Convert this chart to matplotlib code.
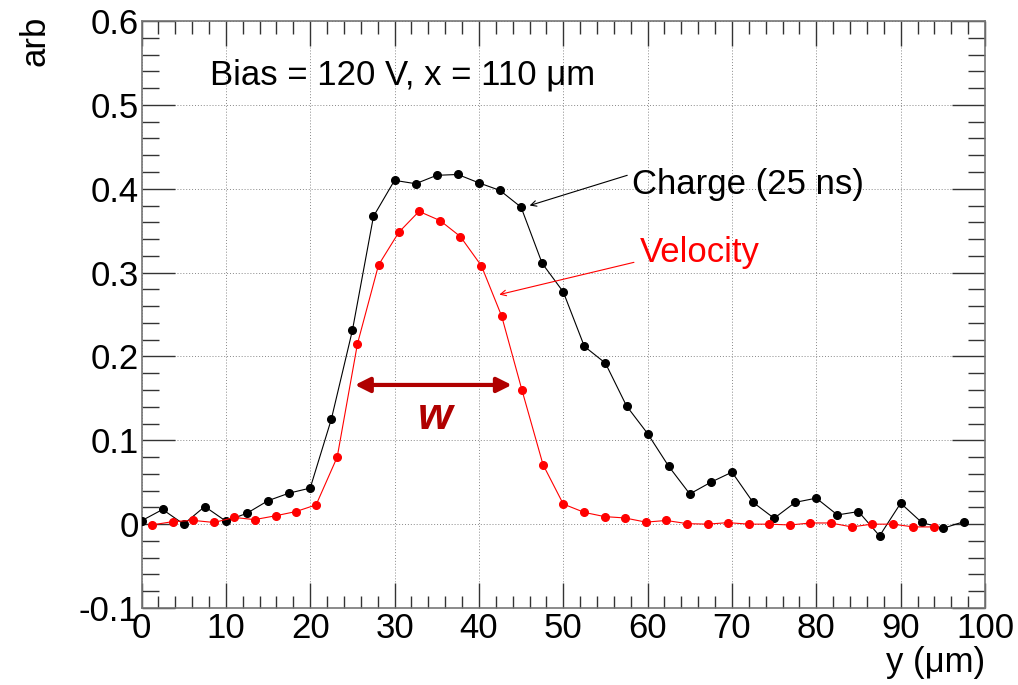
import matplotlib
matplotlib.use("Agg")
import matplotlib.pyplot as plt
from matplotlib.ticker import MultipleLocator

plt.rcParams['font.family'] = ['Liberation Sans', 'DejaVu Sans']

# charge collected in 25 ns, black points
charge_y_pos = [0, 2.5, 5, 7.5, 10, 12.5, 15, 17.5, 20, 22.5, 25, 27.5, 30, 32.5,
                35, 37.5, 40, 42.5, 45, 47.5, 50, 52.5, 55, 57.5, 60, 62.5, 65,
                67.5, 70, 72.5, 75, 77.5, 80, 82.5, 85, 87.5, 90, 92.5, 95, 97.5]
charge = [0.004, 0.0175, 0.0, 0.021, 0.0036, 0.013, 0.028, 0.037, 0.043, 0.125,
          0.231, 0.367, 0.410, 0.406, 0.416, 0.417, 0.407, 0.398, 0.378, 0.311,
          0.277, 0.212, 0.192, 0.141, 0.108, 0.069, 0.036, 0.050, 0.062, 0.026,
          0.007, 0.026, 0.031, 0.011, 0.015, -0.014, 0.025, 0.002, -0.005, 0.003]

# velocity, red points
vel_y_pos = [1.2, 3.7, 6.1, 8.6, 11.0, 13.4, 15.9, 18.3, 20.7, 23.2, 25.6, 28.1,
             30.5, 32.9, 35.4, 37.8, 40.3, 42.7, 45.1, 47.6, 50.0, 52.5, 54.9,
             57.3, 59.8, 62.2, 64.7, 67.1, 69.5, 72.0, 74.4, 76.9, 79.3, 81.7,
             84.2, 86.6, 89.1, 91.5, 93.9]
velocity = [-0.001, 0.003, 0.0045, 0.002, 0.008, 0.0054, 0.010, 0.015, 0.023,
            0.080, 0.215, 0.309, 0.348, 0.373, 0.362, 0.343, 0.308, 0.248, 0.160,
            0.071, 0.024, 0.014, 0.009, 0.0074, 0.0024, 0.0044, 0.0006, 0.0,
            0.0018, 0.0, 0.0, -0.001, 0.0014, 0.0014, -0.0033, 0.0, 0.0, -0.0033,
            -0.0033]

fig = plt.figure(figsize=(10.18, 6.85), dpi=100)
ax = fig.add_axes([0.139, 0.1124, 0.8286, 0.8569])

ax.plot(charge_y_pos, charge, color='black', lw=0.8, marker='o', ms=5.5, zorder=3)
ax.plot(vel_y_pos, velocity, color='red', lw=0.8, marker='o', ms=5.5, zorder=3)

ax.set_xlim(0, 100)
ax.set_ylim(-0.1, 0.6)
ax.xaxis.set_major_locator(MultipleLocator(10))
ax.xaxis.set_minor_locator(MultipleLocator(2))
ax.yaxis.set_major_locator(MultipleLocator(0.1))
ax.yaxis.set_minor_locator(MultipleLocator(0.02))
ax.set_yticks([-0.1, 0, 0.1, 0.2, 0.3, 0.4, 0.5, 0.6])
ax.set_yticklabels(['-0.1', '0', '0.1', '0.2', '0.3', '0.4', '0.5', '0.6'])

ax.grid(True, which='major', color='#888888', ls=(0, (1, 2)), lw=0.7)
ax.tick_params(which='both', direction='in', top=True, right=True,
               labelsize=25, color='#333333', width=1)
ax.tick_params(axis='x', which='major', length=18, pad=3)
ax.tick_params(axis='x', which='minor', length=9)
ax.tick_params(axis='y', which='major', length=24, pad=2)
ax.tick_params(axis='y', which='minor', length=12)
for s in ax.spines.values():
    s.set_color('#777777')
    s.set_linewidth(1.2)

fig.text(0.034, 0.94, 'arb', rotation=90, fontsize=25, ha='center', va='center')
fig.text(0.9676, 0.033, 'y (\u03bcm)', fontsize=25, ha='right', va='center')

ax.text(8.1, 0.536, 'Bias = 120 V, x = 110 \u03bcm', fontsize=25, va='center')
ax.text(58.1, 0.405, 'Charge (25 ns)', fontsize=25, va='center')
ax.text(59.1, 0.324, 'Velocity', fontsize=25, va='center', color='red')

ax.annotate('', xy=(45.7, 0.379), xytext=(57.9, 0.417),
            arrowprops=dict(arrowstyle='->', color='black', lw=0.8))
ax.annotate('', xy=(42.1, 0.273), xytext=(58.7, 0.313),
            arrowprops=dict(arrowstyle='->', color='red', lw=0.8))
ax.annotate('', xy=(43.9, 0.166), xytext=(25.3, 0.166),
            arrowprops=dict(arrowstyle='<|-|>', color='#b00000', lw=3,
                            mutation_scale=22, shrinkA=0, shrinkB=0))
ax.text(34.8, 0.127, 'w', fontsize=32, color='#b00000', fontweight='bold',
        fontstyle='italic', ha='center', va='center')

fig.savefig('out.png', dpi=100)
